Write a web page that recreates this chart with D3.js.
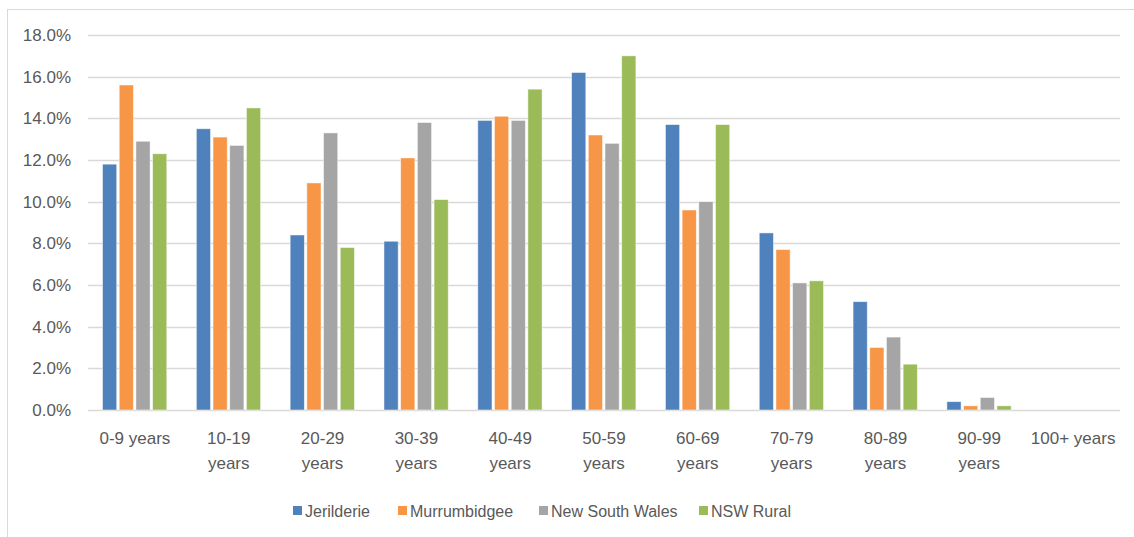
<!DOCTYPE html>
<html><head><meta charset="utf-8">
<script src="https://cdn.jsdelivr.net/npm/d3@7"></script>
<style>body{margin:0;background:#fff;}svg{display:block;}</style>
</head><body>
<svg id="chart" width="1134" height="537"></svg>
<script>
const categories = ["0-9 years","10-19 years","20-29 years","30-39 years","40-49 years","50-59 years","60-69 years","70-79 years","80-89 years","90-99 years","100+ years"];
const seriesNames = ["Jerilderie","Murrumbidgee","New South Wales","NSW Rural"];
const jerilderie    = [11.8,13.5,8.4,8.1,13.9,16.2,13.7,8.5,5.2,0.4,0.0];
const murrumbidgee  = [15.6,13.1,10.9,12.1,14.1,13.2,9.6,7.7,3.0,0.2,0.0];
const newSouthWales = [12.9,12.7,13.3,13.8,13.9,12.8,10.0,6.1,3.5,0.6,0.0];
const nswRural      = [12.3,14.5,7.8,10.1,15.4,17.0,13.7,6.2,2.2,0.2,0.0];
const yTicks = [0,2,4,6,8,10,12,14,16,18];
const colors = ["#4f81bd","#f79646","#a5a5a5","#9bbb59"];
const seriesValues = [jerilderie, murrumbidgee, newSouthWales, nswRural];

(function(){
const svg = d3.select("#chart");
const font = "'Liberation Sans', Arial, sans-serif";
const textColor = "#595959";

svg.append("rect").attr("x",7.5).attr("y",9.5).attr("width",1140).attr("height",540)
  .attr("fill","none").attr("stroke","#d9d9d9").attr("stroke-width",1);

const pLeft = 88, pRight = 1120, pTop = 35, pBottom = 410;
const x = d3.scaleBand().domain(categories).range([pLeft,pRight]).paddingInner(0).paddingOuter(0);
const y = d3.scaleLinear().domain([0,18]).range([pBottom,pTop]);
const xs = d3.scaleBand().domain(seriesNames).range([0,x.bandwidth()]).paddingInner(0).paddingOuter(0.81);

svg.append("g").selectAll("line").data(yTicks).join("line")
  .attr("x1",pLeft).attr("x2",pRight)
  .attr("y1",d=>Math.round(y(d))+0.5).attr("y2",d=>Math.round(y(d))+0.5)
  .attr("stroke","#d9d9d9").attr("stroke-width",1.5);

const yAxis = d3.axisLeft(y).tickValues(yTicks).tickSize(0).tickPadding(0).tickFormat(d=>d.toFixed(1)+"%");
const yg = svg.append("g").attr("transform",`translate(71,0)`).call(yAxis);
yg.select(".domain").remove();
yg.selectAll("text").attr("font-family",font).attr("font-size",17).attr("fill",textColor);

const groups = svg.append("g").selectAll("g").data(categories).join("g")
  .attr("transform",d=>`translate(${x(d)},0)`);
groups.selectAll("rect").data((c,i)=>seriesNames.map((s,j)=>({s,j,v:seriesValues[j][i]})))
  .join("rect")
  .attr("x",d=>xs(d.s)+1)
  .attr("width",xs.bandwidth()-2.5)
  .attr("y",d=>y(d.v))
  .attr("height",d=>Math.max(0,pBottom-y(d.v)))
  .attr("fill",d=>colors[d.j])
  .attr("stroke","#ffffff").attr("stroke-opacity",0.6).attr("stroke-width",0.8);

const xAxis = d3.axisBottom(x).tickSize(0).tickPadding(0);
const xg = svg.append("g").attr("transform",`translate(0,${pBottom})`).call(xAxis);
xg.select(".domain").remove();
xg.selectAll("text").each(function(d){
  const t = d3.select(this);
  t.text(null).attr("font-family",font).attr("font-size",17).attr("fill",textColor).attr("y",0).attr("dy",null);
  const parts = (d==="0-9 years"||d==="100+ years") ? [d] : d.split(" ");
  parts.forEach((p,k)=>{
    t.append("tspan").attr("x",0).attr("y",34+k*25).text(p);
  });
});

const legendX = [293,398,539,699];
const lg = svg.append("g").selectAll("g").data(seriesNames).join("g")
  .attr("transform",(d,i)=>`translate(${legendX[i]},506)`);
lg.append("rect").attr("width",9).attr("height",9).attr("fill",(d,i)=>colors[i]);
lg.append("text").attr("x",12).attr("y",11).text(d=>d)
  .attr("font-family",font).attr("font-size",16).attr("fill",textColor);
})();
</script>
</body></html>
